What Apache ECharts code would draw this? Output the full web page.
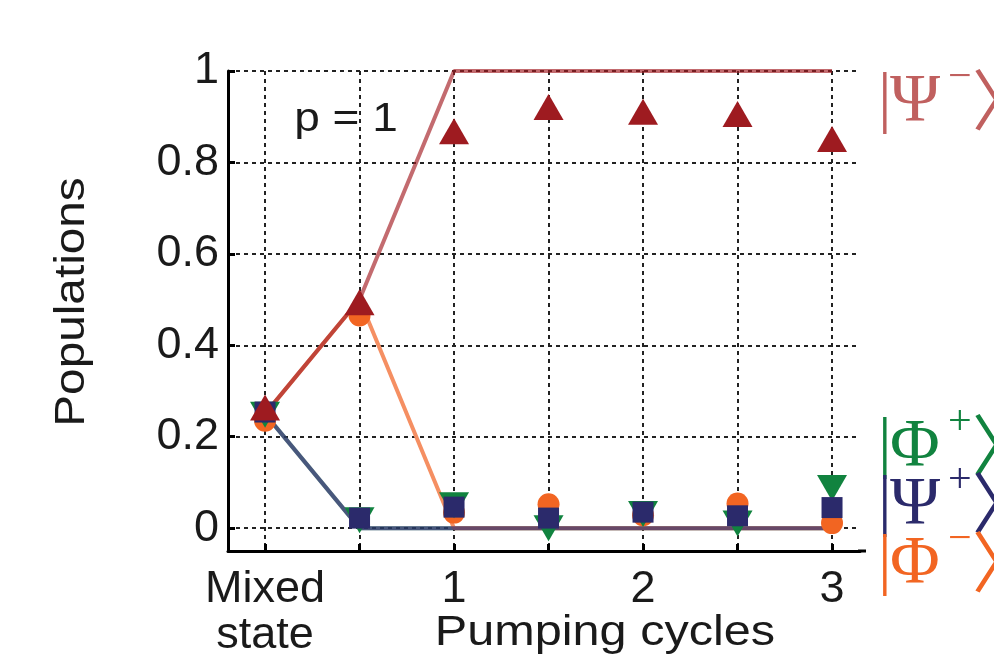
<!DOCTYPE html>
<html>
<head>
<meta charset="utf-8">
<script src="https://cdn.jsdelivr.net/npm/echarts@6/dist/echarts.min.js"></script>
<style>
  html, body { margin: 0; padding: 0; background: #fff; }
  #chart { width: 994px; height: 667px; }
</style>
</head>
<body>
<div id="chart"></div>
<script>
// Pumping steps: 0 is the initial mixed state, then half-cycle steps up to 3 cycles
const steps = [0, 0.5, 1, 1.5, 2, 2.5, 3];
const xTickValues = [0, 0.5, 1, 1.5, 2, 2.5, 3];
const xLabelValues = [0, 1, 2, 3];
const yTickValues = [0, 0.2, 0.4, 0.6, 0.8, 1];

// Measured Bell-state populations
const psiMinusMeas = [0.264, 0.494, 0.868, 0.921, 0.911, 0.906, 0.851];
const phiMinusMeas = [0.235, 0.465, 0.034, 0.052, 0.028, 0.054, 0.011];
const psiPlusMeas  = [0.254, 0.022, 0.046, 0.022, 0.035, 0.027, 0.045];
const phiPlusMeas  = [0.248, 0.017, 0.050, 0.000, 0.031, 0.010, 0.088];

// Ideal populations for p = 1
const psiMinusIdeal = [0.25, 0.5, 1, 1, 1, 1, 1];
const phiMinusIdeal = [0.25, 0.5, 0, 0, 0, 0, 0];
const psiPlusIdeal  = [0.25, 0, 0, 0, 0, 0, 0];
const phiPlusIdeal  = [0.25, 0, 0, 0, 0, 0, 0];

const SANS = '"Liberation Sans", Arial, Helvetica, sans-serif';
const SERIF = '"Liberation Serif", "Times New Roman", serif';
const CJK = '"Noto Sans CJK JP", "Noto Sans CJK SC", sans-serif';
const TXT = '#1a1a1a';
const FS = 45;

const pairs = ys => steps.map((x, i) => [x, ys[i]]);

function lineSeries(ys, color, opacity, z) {
  return {
    type: 'line', data: pairs(ys), symbol: 'none', z: z, silent: true,
    lineStyle: { color: color, width: 4, opacity: opacity },
    animation: false
  };
}
function markerSeries(ys, symbol, size, color, rotate, z) {
  return {
    type: 'scatter', data: pairs(ys), symbol: symbol, symbolSize: size,
    symbolRotate: rotate, z: z,
    itemStyle: { color: color, opacity: 1 },
    animation: false
  };
}

// Ket labels |X^s> on the right-hand side
function ket(letter, sup, color, baseY) {
  const mid = baseY - 23;
  const supMid = baseY - 33 - 14;
  return [
    { type: 'text', x: 878, y: mid, style: { text: '|', font: '68px ' + SERIF, fill: color, verticalAlign: 'middle' } },
    { type: 'text', x: 890, y: mid, style: { text: letter, font: '68px ' + SERIF, fill: color, verticalAlign: 'middle' } },
    { type: 'text', x: 948, y: supMid, style: { text: sup, font: '42px ' + SERIF, fill: color, verticalAlign: 'middle' } },
    { type: 'text', x: 972, y: mid - 2, style: { text: '\u3009', font: '66px ' + CJK, fill: color, verticalAlign: 'middle' } }
  ];
}

const chart = echarts.init(document.getElementById('chart'), null, { renderer: 'canvas' });

const axisTextStyle = { fontFamily: SANS, fontSize: FS, color: TXT };
const dashed = { color: '#222', width: 2, type: [4, 4] };

chart.setOption({
  backgroundColor: '#fff',
  animation: false,
  grid: { left: 228, top: 71, width: 632, height: 480 },
  xAxis: {
    type: 'value', min: -0.196, max: 3.148,
    axisLine: { show: true, onZero: false, lineStyle: { color: '#000', width: 3 } },
    axisTick: { show: true, inside: true, length: 7, lineStyle: { color: '#000', width: 3 }, customValues: xTickValues },
    axisLabel: Object.assign({
      customValues: xLabelValues, margin: 16, lineHeight: 46,
      formatter: v => (v === 0 ? 'Mixed\nstate' : String(v))
    }, axisTextStyle),
    splitLine: { show: true, lineStyle: dashed }
  },
  yAxis: {
    type: 'value', min: -0.05, max: 1,
    axisLine: { show: true, onZero: false, lineStyle: { color: '#000', width: 3 } },
    axisTick: { show: true, inside: true, length: 7, lineStyle: { color: '#000', width: 3 }, customValues: yTickValues },
    axisLabel: Object.assign({ customValues: yTickValues, margin: 9, formatter: v => String(v) }, axisTextStyle),
    splitLine: { show: true, lineStyle: dashed }
  },
  graphic: [
    // extension of the bottom axis line past the plotting area
    { type: 'line', shape: { x1: 858, y1: 551, x2: 866, y2: 551 }, style: { stroke: '#000', lineWidth: 3 } },
    { type: 'text', x: 605, y: 633, scaleX: 1.13, style: { text: 'Pumping cycles', font: '43px ' + SANS, fill: TXT, align: 'center', verticalAlign: 'middle' } },
    { type: 'text', x: 72, y: 302, rotation: Math.PI / 2, scaleX: 1.11, style: { text: 'Populations', font: '43px ' + SANS, fill: TXT, align: 'center', verticalAlign: 'middle' } },
    { type: 'text', x: 346, y: 120, scaleX: 1.15, style: { text: 'p = 1', font: '40px ' + SANS, fill: TXT, align: 'center', verticalAlign: 'middle' } }
  ].concat(
    ket('\u03A8', '\u2212', '#c0605f', 125),
    ket('\u03A6', '+', '#11833f', 470),
    ket('\u03A8', '+', '#2b2a6b', 528),
    ket('\u03A6', '\u2212', '#f26522', 587)
  ),
  series: [
    lineSeries(phiPlusIdeal, '#1b8a4a', 0.5, 1),
    lineSeries(phiMinusIdeal, '#f58f62', 1, 2),
    lineSeries(psiPlusIdeal, '#2b2a6b', 0.7, 3),
    lineSeries(psiMinusIdeal, '#a31c22', 0.65, 4),
    markerSeries(phiMinusMeas, 'circle', 22, '#f26522', 0, 5),
    markerSeries(phiPlusMeas, 'triangle', [30, 26], '#11833f', 180, 6),
    markerSeries(psiPlusMeas, 'rect', 21, '#2b2a6b', 0, 7),
    markerSeries(psiMinusMeas, 'triangle', [30, 26], '#9e1b20', 0, 8)
  ]
});
</script>
</body>
</html>
